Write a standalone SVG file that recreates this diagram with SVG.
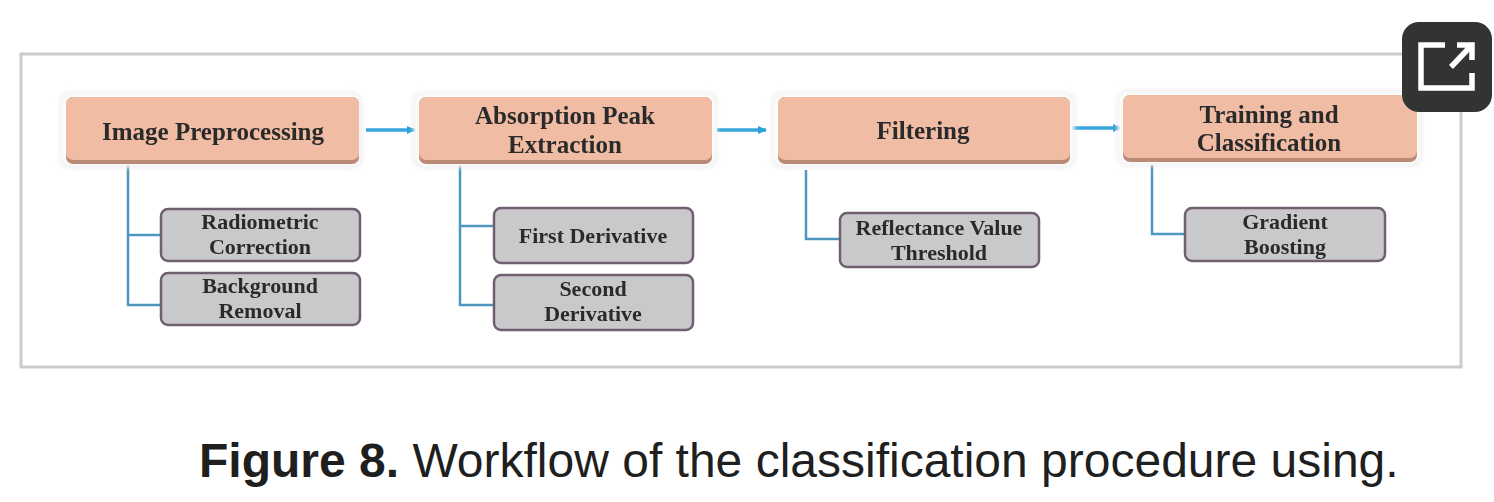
<svg xmlns="http://www.w3.org/2000/svg" width="1494" height="502" viewBox="0 0 1494 502">
<defs>
<filter id="soft" x="-5%" y="-5%" width="110%" height="110%"><feGaussianBlur stdDeviation="0.55"/></filter>
<filter id="halo" x="-10%" y="-20%" width="120%" height="140%"><feGaussianBlur stdDeviation="2"/></filter>
<marker id="tip" markerUnits="userSpaceOnUse" markerWidth="10" markerHeight="10" refX="8" refY="5" orient="auto"><path d="M0 1 L9 5 L0 9 Z" fill="#2f9fd6"/></marker>
</defs>
<style>
text{font-family:"Liberation Serif","Times New Roman",serif;font-weight:700;fill:#2b2b2b;text-anchor:middle}
.h{font-size:25px}
.s{font-size:22px}
.o{fill:#f0bca3;stroke:#fff;stroke-width:0}
.ob{fill:#b98a75}
.hl{fill:#fff;stroke:#dcdcdc;stroke-width:1.5}
.g{fill:#c9c9cb;stroke:#6f5f70;stroke-width:2.5}
.flow{fill:none;stroke:#35a6dc;stroke-width:3.5;marker-end:url(#tip)}
.tree{fill:none;stroke:#4b97bf;stroke-width:2.5}
.cap{font-family:"Liberation Sans",Arial,sans-serif;font-size:48px;fill:#1f1f1f;text-anchor:start;font-weight:400}
</style>
<rect width="1494" height="502" fill="#fff"/>
<rect x="21" y="54" width="1440" height="313" fill="#fff" stroke="#cccccc" stroke-width="3"/>
<g id="connectors" filter="url(#soft)">
<path class="flow" d="M366 130H415"/>
<path class="flow" d="M717 130H766"/>
<path class="flow" d="M1072 128H1121"/>
<path class="tree" d="M128 165V305H161M128 235H161"/>
<path class="tree" d="M460 165V305H494M460 226H494"/>
<path class="tree" d="M806 170V239H840"/>
<path class="tree" d="M1152 165V234H1185"/>
</g>
<g filter="url(#soft)">
<g id="n1"><rect class="hl" x="61" y="93" width="300" height="74" rx="9" filter="url(#halo)"/><rect class="ob" x="66" y="97" width="293" height="67" rx="7"/><rect class="o" x="66" y="97" width="293" height="63" rx="7"/><text class="h" x="213" y="140">Image Preprocessing</text></g>
<g id="n2"><rect class="hl" x="414" y="93" width="302" height="74" rx="9" filter="url(#halo)"/><rect class="ob" x="419" y="97" width="293" height="67" rx="7"/><rect class="o" x="419" y="97" width="293" height="63" rx="7"/><text class="h" x="565" y="124">Absorption Peak</text><text class="h" x="565" y="153">Extraction</text></g>
<g id="n3"><rect class="hl" x="773" y="93" width="301" height="74" rx="9" filter="url(#halo)"/><rect class="ob" x="778" y="97" width="292" height="67" rx="7"/><rect class="o" x="778" y="97" width="292" height="63" rx="7"/><text class="h" x="923" y="139">Filtering</text></g>
<g id="n4"><rect class="hl" x="1118" y="91" width="303" height="74" rx="9" filter="url(#halo)"/><rect class="ob" x="1123" y="95" width="294" height="67" rx="7"/><rect class="o" x="1123" y="95" width="294" height="63" rx="7"/><text class="h" x="1269" y="123">Training and</text><text class="h" x="1269" y="151">Classification</text></g>
<g id="s1"><rect class="g" x="161" y="209" width="199" height="52" rx="7"/><text class="s" x="260" y="229">Radiometric</text><text class="s" x="260" y="254">Correction</text></g>
<g id="s2"><rect class="g" x="161" y="273" width="199" height="52" rx="7"/><text class="s" x="260" y="293">Background</text><text class="s" x="260" y="318">Removal</text></g>
<g id="s3"><rect class="g" x="494" y="208" width="199" height="55" rx="7"/><text class="s" x="593" y="243">First Derivative</text></g>
<g id="s4"><rect class="g" x="494" y="275" width="199" height="55" rx="7"/><text class="s" x="593" y="296">Second</text><text class="s" x="593" y="321">Derivative</text></g>
<g id="s5"><rect class="g" x="840" y="213" width="199" height="54" rx="7"/><text class="s" x="939" y="235">Reflectance Value</text><text class="s" x="939" y="260">Threshold</text></g>
<g id="s6"><rect class="g" x="1185" y="208" width="200" height="53" rx="7"/><text class="s" x="1285" y="229">Gradient</text><text class="s" x="1285" y="254">Boosting</text></g>
</g>
<g id="expand-button">
<rect x="1402" y="22" width="90" height="90" rx="17" fill="#333333"/>
<path d="M1445 45H1421V88H1472V73" fill="none" stroke="#fff" stroke-width="5.5"/>
<path d="M1451 67L1470 47M1457 45H1472V60" fill="none" stroke="#fff" stroke-width="5.5"/>
</g>
<text class="cap" x="199" y="477"><tspan font-weight="700">Figure 8.</tspan> Workflow of the classification procedure using.</text>
</svg>
